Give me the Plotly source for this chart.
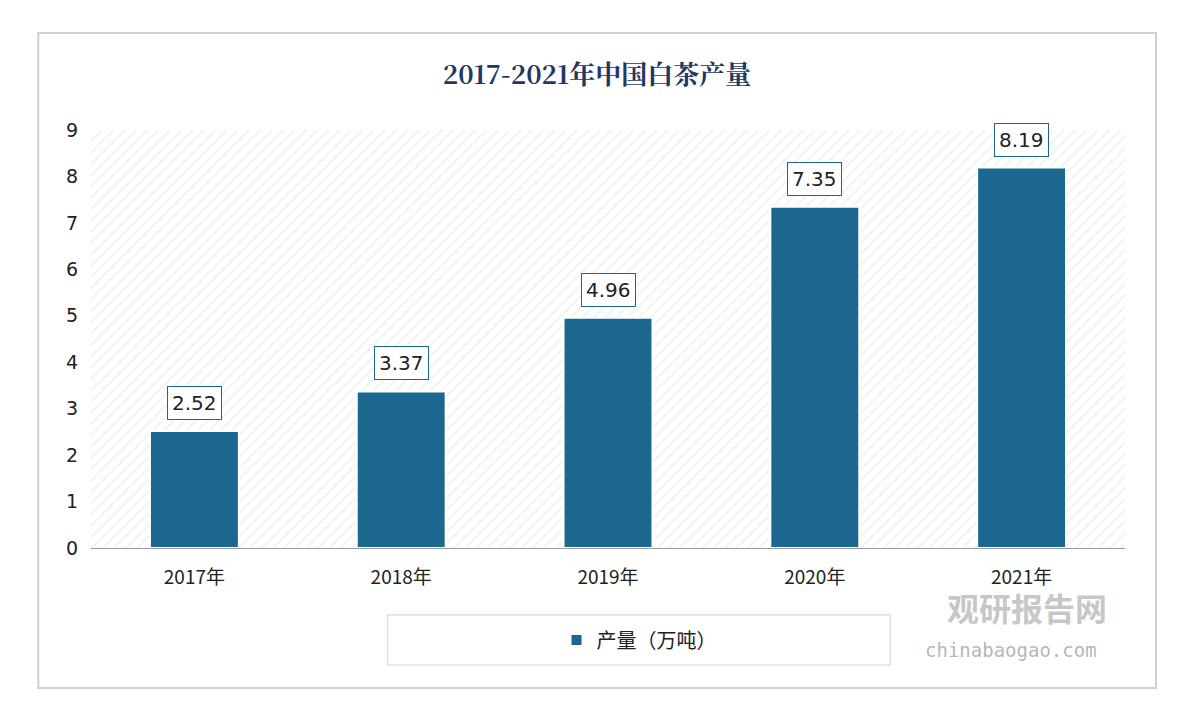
import plotly.graph_objects as go

years = ["2017年", "2018年", "2019年", "2020年", "2021年"]
output = [2.52, 3.37, 4.96, 7.35, 8.19]
series_name = "产量（万吨）"
title = "2017-2021年中国白茶产量"

fig = go.Figure()
fig.add_trace(go.Bar(x=[0.5], y=[9], width=[1], xaxis="x", showlegend=False, hoverinfo="skip",
                     marker=dict(color="white", line_width=0,
                                 pattern=dict(shape="/", fgcolor="#d8d8d8", bgcolor="white", size=8, solidity=0.15))))
fig.add_trace(go.Bar(x=years, y=output, name=series_name, width=0.43, xaxis="x2",
                     marker=dict(color="#1B6790", line=dict(color="white", width=2))))

for yr, v in zip(years, output):
    fig.add_annotation(x=yr, y=v, xref="x2", yref="y", text=f"{v:.2f}", showarrow=False, yshift=28,
                       font=dict(size=20, color="#222", family="DejaVu Sans"),
                       bordercolor="#1B6790", borderwidth=1, borderpad=4, bgcolor="white")

fig.add_annotation(xref="paper", yref="paper", x=0.985, y=-0.2, text="<b>观研报告网</b>", showarrow=False,
                   font=dict(size=32, color="rgba(150,150,150,0.55)", family="Noto Sans CJK SC"))
fig.add_annotation(xref="paper", yref="paper", x=0.975, y=-0.275, text="chinabaogao.com", showarrow=False,
                   font=dict(size=19, color="rgba(150,150,150,0.7)", family="DejaVu Sans Mono"))

fig.add_shape(type="rect", xref="paper", yref="paper", x0=-0.051, x1=1.03, y0=-0.335, y1=1.232,
              line=dict(color="#d0d0d0", width=2), layer="below")
fig.add_shape(type="rect", xref="paper", yref="paper", x0=0.287, x1=0.773, y0=-0.28, y1=-0.16,
              line=dict(color="#d0d0d0", width=1))

fig.update_layout(
    width=1178, height=702,
    margin=dict(l=83, r=61, t=122, b=162),
    paper_bgcolor="white", plot_bgcolor="white",
    title=dict(text=f"<b>{title}</b>", x=0.5, xanchor="center", y=0.905, yanchor="middle",
               font=dict(size=26, color="#1F3864", family="Noto Serif CJK SC, Noto Sans CJK SC")),
    barmode="overlay",
    xaxis=dict(range=[0, 1], visible=False),
    xaxis2=dict(overlaying="x", side="bottom", anchor="y",
                tickfont=dict(size=19, color="#222", family="Noto Sans CJK SC"), showline=True,
                linecolor="#999", ticks="", ticklabelstandoff=12),
    yaxis=dict(range=[0, 9], dtick=1, showgrid=False, zeroline=False,
               tickfont=dict(size=19, color="#222", family="DejaVu Sans"), ticklabelstandoff=12),
    legend=dict(orientation="h", x=0.53, xanchor="center", y=-0.22, yanchor="middle",
                font=dict(size=20, color="#222", family="Noto Sans CJK SC")),
)
fig.write_html("out.html")
